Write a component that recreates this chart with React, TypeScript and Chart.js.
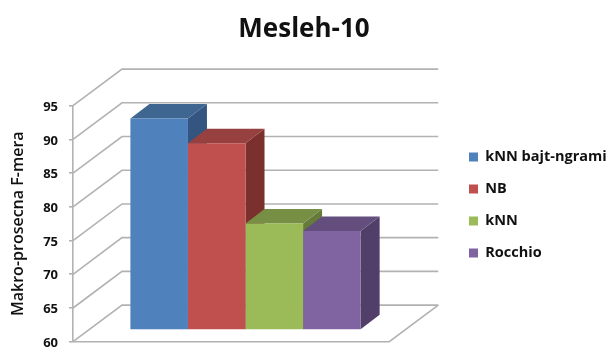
import React, { useEffect, useRef } from "react";
import { Chart, registerables } from "chart.js";

Chart.register(...registerables);

const categories = [""];
const seriesNames = ["kNN bajt-ngrami", "NB", "kNN", "Rocchio"];
const knnBajt = [91.35];
const nb = [87.7];
const knn = [75.8];
const rocchio = [74.7];
const seriesValues = [knnBajt, nb, knn, rocchio];
const frontColors = ["#4F81BD", "#C0504D", "#9BBB59", "#8064A2"];
const topColors = ["#3F6591", "#964040", "#778F45", "#634E7E"];
const sideColors = ["#335580", "#7C302E", "#667A3A", "#523F69"];
const FONT = "'Open Sans', sans-serif";
const SHIFT_X = 14.4;
const SHIFT_Y = -11.7;

const scene = {
  id: "scene",
  afterLayout(chart: any) {
    const lg = chart.legend;
    const h = lg.bottom - lg.top;
    lg.left = 451.5;
    lg.right = 608;
    lg.top = 205 - h / 2;
    lg.bottom = lg.top + h;
    chart.titleBlock.left = 0;
    chart.titleBlock.right = 608;
    const a = chart.chartArea;
    const y = chart.scales.y;
    a.top = 105.7;
    a.bottom = 341.7;
    a.height = a.bottom - a.top;
    y.top = a.top;
    y.bottom = a.bottom;
    y.height = a.height;
    y.configure();
  },
  beforeDatasetsDraw(chart: any) {
    const { ctx, chartArea: a, scales } = chart;
    const depthX = 49;
    const depthY = 36.6;
    ctx.save();
    ctx.strokeStyle = "#B2B2B2";
    ctx.lineWidth = 1.6;
    scales.y.ticks.forEach((t: any) => {
      const y = scales.y.getPixelForValue(t.value);
      ctx.beginPath();
      ctx.moveTo(a.left, y);
      ctx.lineTo(a.left + depthX, y - depthY);
      ctx.lineTo(a.right + depthX, y - depthY);
      ctx.stroke();
    });
    ctx.beginPath();
    ctx.moveTo(a.left, a.bottom);
    ctx.lineTo(a.right, a.bottom);
    ctx.lineTo(a.right + depthX, a.bottom - depthY);
    ctx.stroke();
    ctx.restore();

    const d = 19;
    const e = 14.5;
    ctx.save();
    ctx.translate(SHIFT_X, SHIFT_Y);
    seriesNames.forEach((_, i) => {
      chart.getDatasetMeta(i).data.forEach((bar: any) => {
        const { x, y, base, width } = bar.getProps(["x", "y", "base", "width"], true);
        const l = x - width / 2;
        const r = x + width / 2;
        ctx.fillStyle = sideColors[i];
        ctx.beginPath();
        ctx.moveTo(r, y);
        ctx.lineTo(r + d, y - e);
        ctx.lineTo(r + d, base - e);
        ctx.lineTo(r, base);
        ctx.closePath();
        ctx.fill();
        ctx.fillStyle = topColors[i];
        ctx.beginPath();
        ctx.moveTo(l, y);
        ctx.lineTo(l + d, y - e);
        ctx.lineTo(r + d, y - e);
        ctx.lineTo(r, y);
        ctx.closePath();
        ctx.fill();
      });
    });
    ctx.restore();
  },
  beforeDatasetDraw(chart: any) {
    chart.ctx.save();
    chart.ctx.translate(SHIFT_X, SHIFT_Y);
  },
  afterDatasetDraw(chart: any) {
    chart.ctx.restore();
  },
};

export default function App() {
  const ref = useRef<HTMLCanvasElement>(null);
  useEffect(() => {
    const chart = new Chart(ref.current!, {
      type: "bar",
      data: {
        labels: categories,
        datasets: seriesNames.map((name, i) => ({
          label: name,
          data: seriesValues[i],
          base: 60,
          backgroundColor: frontColors[i],
          borderWidth: 0,
          clip: false,
          categoryPercentage: 0.728,
          barPercentage: 1,
        })),
      },
      options: {
        responsive: false,
        animation: false,
        events: [],
        layout: { autoPadding: false, padding: { left: 0, right: 89, top: 0, bottom: 0 } },
        scales: {
          x: { display: false },
          y: {
            min: 60,
            max: 95,
            afterFit: (s: any) => {
              s.width = 73;
            },
            ticks: {
              stepSize: 5,
              padding: 11,
              labelOffset: 1.5,
              color: "#111",
              font: { family: FONT, size: 13, weight: "bold" },
            },
            grid: { drawOnChartArea: false, color: "#B2B2B2", tickLength: 4, lineWidth: 1.6 },
            border: { color: "#B2B2B2", width: 1.6 },
            title: {
              display: true,
              text: "Makro-prosecna F-mera",
              color: "#111",
              padding: { top: 9, bottom: 0 },
              font: { family: FONT, size: 16, weight: "600" },
            },
          },
        },
        plugins: {
          tooltip: { enabled: false },
          title: {
            display: true,
            text: "Mesleh-10",
            color: "#111",
            padding: { top: 14, bottom: 62.5 },
            font: { family: FONT, size: 26, weight: "bold" },
          },
          legend: {
            position: "right",
            labels: {
              boxWidth: 9,
              boxHeight: 9,
              padding: 17.5,
              color: "#111",
              font: { family: FONT, size: 14.5, weight: "bold" },
            },
          },
        },
      },
      plugins: [scene],
    } as any);
    return () => chart.destroy();
  }, []);
  return (
    <div style={{ position: "absolute", left: 0, top: 0 }}>
      <canvas ref={ref} width={608} height={349} style={{ display: "block" }} />
    </div>
  );
}
